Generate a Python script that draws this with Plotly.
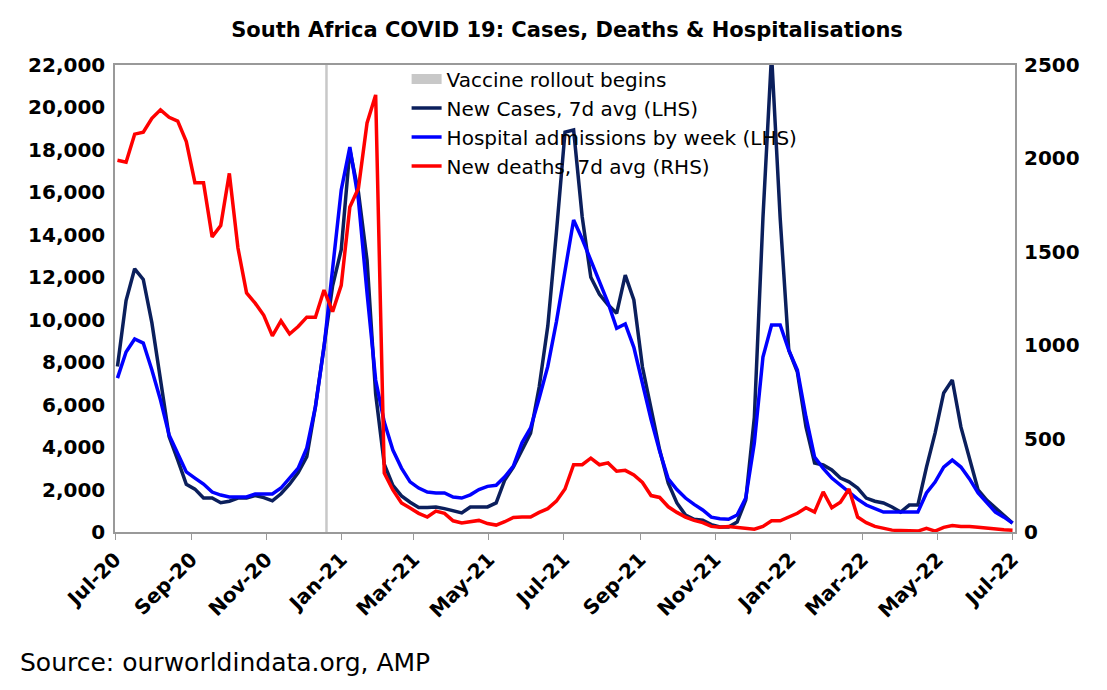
import pandas as pd
import plotly.graph_objects as go

# weekly series, first week starting 3 Jul 2020
week_start = "2020-07-03"
n_weeks = 105

cases = [7800, 10900, 12400, 11900, 9850, 7200, 4500, 3400, 2250, 2020,
         1600, 1600, 1380, 1450, 1600, 1600, 1720, 1620, 1470, 1800,
         2250, 2800, 3550, 5900, 8900, 11600, 13300, 18000, 16000, 12800,
         6500, 3200, 2200, 1700, 1400, 1150, 1150, 1180,
         1100, 1000, 900, 1180, 1180, 1180, 1370, 2450, 3060, 3860,
         4660, 6830, 9700, 14100, 18840, 18940, 14840, 12000, 11200, 10700,
         10300, 12100, 10930, 7770, 5750, 3860, 2300, 1370, 800, 600,
         560, 350, 240, 240, 470, 1500, 5400, 14800, 22500, 14800,
         8570, 7530, 4950, 3250, 3160, 2920, 2540, 2360, 2070, 1600,
         1450, 1370, 1180, 940, 1270, 1270, 3060, 4660, 6550, 7160,
         4950, 3390, 1980, 1500, 1130, 800, 420]

hospital = [7250, 8480, 9090, 8900, 7630, 6220, 4570, 3720, 2830, 2540,
            2260, 1880, 1740, 1650, 1650, 1650, 1790, 1790, 1790, 2070,
            2540, 3010, 3960, 5890, 8710, 12340, 16110, 18130, 15640, 11260,
            7160, 5180, 3860, 3010, 2360, 2070, 1880, 1840,
            1840, 1650, 1600, 1750, 2000, 2150, 2200, 2600, 3100, 4200,
            4900, 6300, 7800, 9900, 12200, 14700, 13800, 12800, 11800, 10800,
            9600, 9800, 8700, 7000, 5300, 3800, 2500, 2000, 1600, 1300,
            1040, 700, 620, 600, 800, 1600, 4190, 8240, 9750, 9750,
            8570, 7630, 5420, 3530, 3000, 2540, 2200, 1840, 1550, 1270,
            1100, 940, 940, 940, 940, 940, 1840, 2350, 3060, 3390,
            3060, 2500, 1840, 1400, 940, 700, 420]

deaths = [1990, 1980, 2130, 2140, 2215, 2260, 2220, 2200, 2090, 1870,
          1870, 1580, 1640, 1920, 1520, 1280, 1225, 1160, 1050, 1130,
          1060, 1100, 1150, 1150, 1295, 1180, 1320, 1740, 1840, 2190,
          2340, 315, 225, 155, 128, 100, 80, 112,
          100, 60, 48, 55, 62, 45, 37, 55, 78, 80,
          80, 105, 125, 165, 230, 360, 360, 395, 360, 370,
          325, 330, 305, 265, 195, 185, 135, 105, 80, 62,
          50, 30, 25, 30, 25, 20, 15, 30, 60, 60,
          80, 100, 130, 107, 215, 130, 160, 230, 80, 50,
          30, 20, 10, 8, 5, 5, 20, 5, 25, 35,
          30, 30, 25, 20, 15, 12, 10]

vaccine_date = "2020-12-20"

dates = pd.date_range(week_start, periods=n_weeks, freq="7D").strftime("%Y-%m-%d").tolist()

fig = go.Figure()
# legend entry for the vaccine marker line
fig.add_trace(go.Scatter(x=[vaccine_date], y=[None], mode="lines", name="Vaccine rollout begins",
                         line=dict(color="#c8c8c8", width=12)))
fig.add_trace(go.Scatter(x=dates, y=cases, mode="lines", name="New Cases, 7d avg (LHS)",
                         line=dict(color="#0b1f5c", width=3.5)))
fig.add_trace(go.Scatter(x=dates, y=hospital, mode="lines", name="Hospital admissions by week (LHS)",
                         line=dict(color="#0000ff", width=3.5)))
fig.add_trace(go.Scatter(x=dates, y=deaths, mode="lines", name="New deaths, 7d avg (RHS)",
                         line=dict(color="#ff0000", width=3.5), yaxis="y2"))

fig.add_shape(type="line", x0=vaccine_date, x1=vaccine_date, y0=0, y1=1, yref="paper",
              line=dict(color="#c8c8c8", width=2.5), layer="below")

tick_font = dict(family="DejaVu Sans", size=20, color="black", weight="bold")
fig.update_layout(
    width=1107, height=690,
    margin=dict(l=107, r=100, t=57, b=166),
    paper_bgcolor="white", plot_bgcolor="white",
    font=dict(family="DejaVu Sans", color="black"),
    title=dict(text="<b>South Africa COVID 19: Cases, Deaths & Hospitalisations</b>",
               x=0.505, xanchor="center", y=0.968, yanchor="middle",
               font=dict(size=21, family="DejaVu Sans")),
    xaxis=dict(type="date", range=["2020-07-01", "2022-07-03"], dtick="M2", tick0="2020-07-01",
               tickformat="%b-%y", tickangle=-45, tickfont=tick_font, automargin=False,
               showgrid=False, showline=True, linecolor="#999999", linewidth=1.5, mirror=True,
               ticks="outside", ticklen=6, tickcolor="#999999"),
    yaxis=dict(range=[0, 22000], dtick=2000, tickformat=",", tickfont=tick_font, automargin=False,
               showgrid=False, showline=True, linecolor="#999999", linewidth=1.5, mirror=True,
               ticks="", ticklabelstandoff=4),
    yaxis2=dict(range=[0, 2500], dtick=500, overlaying="y", side="right", tickfont=tick_font,
                automargin=False, showgrid=False, ticks="", ticklabelstandoff=8),
    legend=dict(x=0.324, y=1.012, xanchor="left", yanchor="top", bgcolor="rgba(0,0,0,0)",
                font=dict(size=20, family="DejaVu Sans"), tracegroupgap=0, itemwidth=30),
    showlegend=True,
)
fig.add_annotation(text="Source: ourworldindata.org, AMP", xref="paper", yref="paper",
                   x=-0.108, y=-0.245, xanchor="left", yanchor="top", showarrow=False,
                   font=dict(size=25, family="DejaVu Sans"))

fig.write_html("out.html")
